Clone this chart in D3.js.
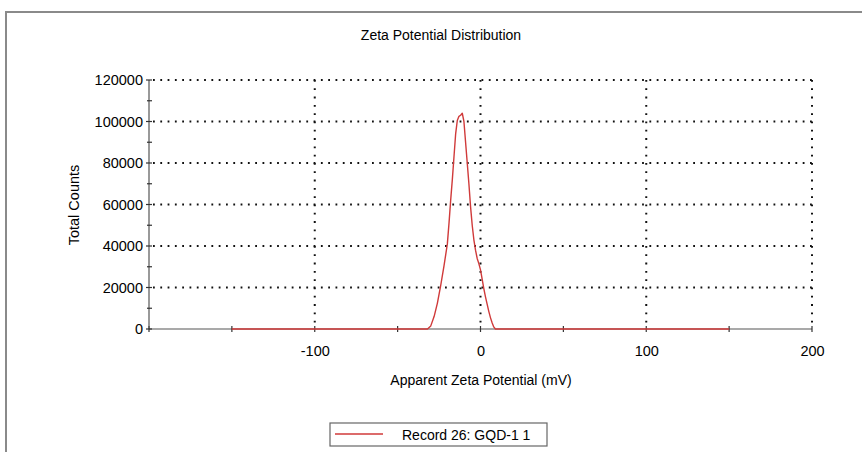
<!DOCTYPE html>
<html>
<head>
<meta charset="utf-8">
<script src="https://cdn.jsdelivr.net/npm/d3@7"></script>
<style>
  html, body { margin: 0; padding: 0; background: #fff; }
  svg text { font-family: "Liberation Sans", Arial, sans-serif; fill: #000; }
</style>
</head>
<body>
<svg id="chart" width="862" height="452"></svg>
<script>
// Zeta potential distribution (mV vs total counts)
const potential = [-150, -32, -30, -28, -26, -24, -22, -20, -19, -18, -17, -16, -15, -14, -13, -12, -11, -10, -9, -8, -7, -6, -5, -4, -3, -2, -1, 0, 1, 2, 3, 4, 5, 6, 7, 8, 9, 150];
const counts = [0, 0, 1500, 6000, 12500, 21000, 30500, 41000, 51000, 62000, 72000, 83000, 94000, 100500, 102500, 103000, 104000, 100000, 90000, 80000, 70000, 59000, 50000, 43000, 38000, 34000, 31500, 28500, 24000, 19500, 15500, 12000, 8500, 5500, 3000, 1000, 0, 0];

const xMajorTicks = [-100, 0, 100, 200];
const xMinorTicks = [-200, -150, -50, 50, 150];
const yMajorTicks = [0, 20000, 40000, 60000, 80000, 100000, 120000];
const yMinorTicks = [10000, 30000, 50000, 70000, 90000, 110000];

const titleText = "Zeta Potential Distribution";
const xLabel = "Apparent Zeta Potential (mV)";
const yLabel = "Total Counts";
const seriesName = "Record 26: GQD-1 1";

const svg = d3.select("#chart");

// outer frame (top and left edges visible)
svg.append("path")
  .attr("d", "M6,452 V12 H862")
  .attr("fill", "none")
  .attr("stroke", "#8a8a8a")
  .attr("stroke-width", 2);

const plot = { left: 149, right: 812, top: 80, bottom: 329 };

const x = d3.scaleLinear().domain([-200, 200]).range([plot.left, plot.right]);
const y = d3.scaleLinear().domain([0, 120000]).range([plot.bottom, plot.top]);

// plain hyphen-minus labels
const plainFormat = d => String(d);

// title
svg.append("text")
  .attr("x", 441).attr("y", 40)
  .attr("text-anchor", "middle")
  .attr("font-size", 14)
  .text(titleText);

// dotted grid
const grid = svg.append("g").attr("stroke", "#111").attr("stroke-width", 2);
grid.selectAll("line.h").data(yMajorTicks.filter(d => d > 0)).join("line")
  .attr("class", "h")
  .attr("x1", plot.left + 4).attr("x2", plot.right)
  .attr("y1", d => y(d)).attr("y2", d => y(d))
  .attr("stroke-dasharray", "1.8,5.5");
grid.selectAll("line.v").data(xMajorTicks).join("line")
  .attr("class", "v")
  .attr("x1", d => x(d)).attr("x2", d => x(d))
  .attr("y1", plot.top).attr("y2", plot.bottom)
  .attr("stroke-dasharray", "1.8,6.5");

// x axis
const xAxis = svg.append("g").attr("transform", `translate(0,${plot.bottom})`);
xAxis.call(d3.axisBottom(x).tickValues(xMajorTicks).tickSize(0).tickPadding(17).tickFormat(plainFormat))
  .call(g => g.select(".domain").remove())
  .call(g => g.selectAll("text").attr("font-size", 14.5).attr("font-family", "Liberation Sans, Arial, sans-serif").attr("fill", "#000"));
xAxis.append("line")
  .attr("x1", plot.left).attr("x2", plot.right)
  .attr("stroke", "#555").attr("stroke-width", 1.2);
xAxis.selectAll("line.tk").data(xMajorTicks.concat(xMinorTicks)).join("line")
  .attr("class", "tk")
  .attr("x1", d => x(d)).attr("x2", d => x(d))
  .attr("y1", -3).attr("y2", 3)
  .attr("stroke", "#333").attr("stroke-width", 1.2);

// y axis
const yAxis = svg.append("g").attr("transform", `translate(${plot.left},0)`);
yAxis.call(d3.axisLeft(y).tickValues(yMajorTicks).tickSize(0).tickPadding(6).tickFormat(plainFormat))
  .call(g => g.select(".domain").remove())
  .call(g => g.selectAll("text").attr("font-size", 14.5).attr("font-family", "Liberation Sans, Arial, sans-serif").attr("fill", "#000"));
yAxis.append("line")
  .attr("y1", plot.top).attr("y2", plot.bottom)
  .attr("stroke", "#555").attr("stroke-width", 1.2);
yAxis.selectAll("line.tk").data(yMajorTicks).join("line")
  .attr("class", "tk")
  .attr("x1", -3).attr("x2", 3)
  .attr("y1", d => y(d)).attr("y2", d => y(d))
  .attr("stroke", "#333").attr("stroke-width", 1.2);
yAxis.selectAll("line.mn").data(yMinorTicks).join("line")
  .attr("class", "mn")
  .attr("x1", -2).attr("x2", 3)
  .attr("y1", d => y(d)).attr("y2", d => y(d))
  .attr("stroke", "#333").attr("stroke-width", 1.2);

// axis titles
svg.append("text")
  .attr("x", 481).attr("y", 385)
  .attr("text-anchor", "middle")
  .attr("font-size", 14)
  .text(xLabel);
svg.append("text")
  .attr("transform", "translate(79,205) rotate(-90)")
  .attr("text-anchor", "middle")
  .attr("font-size", 14.5)
  .text(yLabel);

// distribution curve
const line = d3.line().x((d, i) => x(potential[i])).y(d => y(d));
svg.append("path")
  .datum(counts)
  .attr("d", line)
  .attr("fill", "none")
  .attr("stroke", "#d03a3a")
  .attr("stroke-width", 1.4)
  .attr("stroke-linejoin", "round");

// legend
const legend = svg.append("g").attr("transform", "translate(330,423)");
legend.append("rect")
  .attr("width", 217).attr("height", 23)
  .attr("fill", "#fff")
  .attr("stroke", "#666").attr("stroke-width", 1.2);
legend.append("line")
  .attr("x1", 5).attr("x2", 53).attr("y1", 11).attr("y2", 11)
  .attr("stroke", "#d03a3a").attr("stroke-width", 1.4);
legend.append("text")
  .attr("x", 72).attr("y", 17)
  .attr("font-size", 14)
  .text(seriesName);
</script>
</body>
</html>
